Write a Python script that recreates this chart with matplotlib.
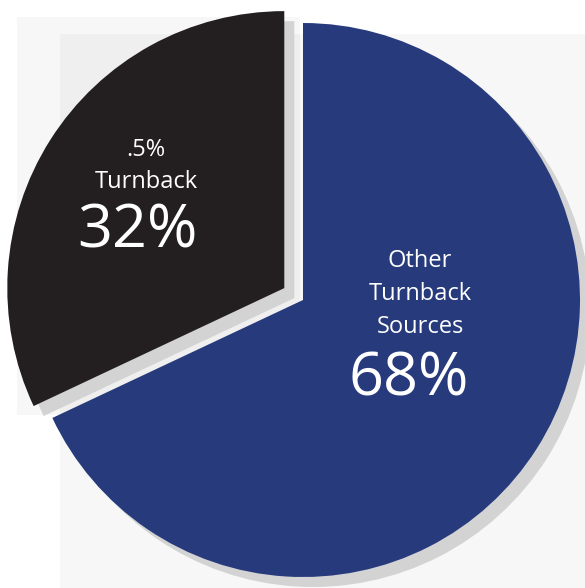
import matplotlib.pyplot as plt
from matplotlib.patches import Rectangle

# data
labels = ["Other\nTurnback\nSources", ".5%\nTurnback"]
shares = [68, 32]
pct_labels = ["68%", "32%"]
colors = ["#263a7c", "#231f20"]
explode = [0, 0.08]   # fraction of radius

W, H = 585, 588
fig = plt.figure(figsize=(W / 100, H / 100), dpi=100)
ax = fig.add_axes([0, 0, 1, 1])
ax.set_xlim(0, W)
ax.set_ylim(0, H)
ax.set_aspect("equal")
ax.axis("off")

# faint backdrop panels (pixel coords, y measured from the top)
def panel(x0, y0, x1, y1):
    ax.add_patch(Rectangle((x0, H - y1), x1 - x0, y1 - y0,
                           facecolor="black", alpha=0.03, lw=0, zorder=0))

panel(17, 17, 300, 415)
panel(60, 34, W, H)

cx, cy, r = 303, H - 300, 277
shift = 10
expl = [e * r for e in explode]  # pie() takes explode in data units

# drop shadow
ax.pie(shares, colors=["#d3d3d3", "#d3d3d3"], startangle=90, counterclock=False,
       explode=expl, radius=r, center=(cx + shift, cy - shift),
       wedgeprops=dict(lw=0, zorder=1))
ax.pie(shares, colors=colors, startangle=90, counterclock=False,
       explode=expl, radius=r, center=(cx, cy),
       wedgeprops=dict(lw=0, zorder=2))

ax.set_xlim(0, W)
ax.set_ylim(0, H)

font = "Open Sans"
# label positions (pixels from top-left)
label_xy = [(420, 294), (146, 166)]
pct_xy = [(409, 380), (137, 231)]
for lab, (x, y) in zip(labels, label_xy):
    ax.text(x, H - y, lab, color="white", fontsize=17, family=font,
            ha="center", va="center", linespacing=1.5, zorder=3)
for p, (x, y) in zip(pct_labels, pct_xy):
    ax.text(x, H - y, p, color="white", fontsize=44, family=font,
            ha="center", va="center", zorder=3)

fig.savefig("out.png", dpi=100)
